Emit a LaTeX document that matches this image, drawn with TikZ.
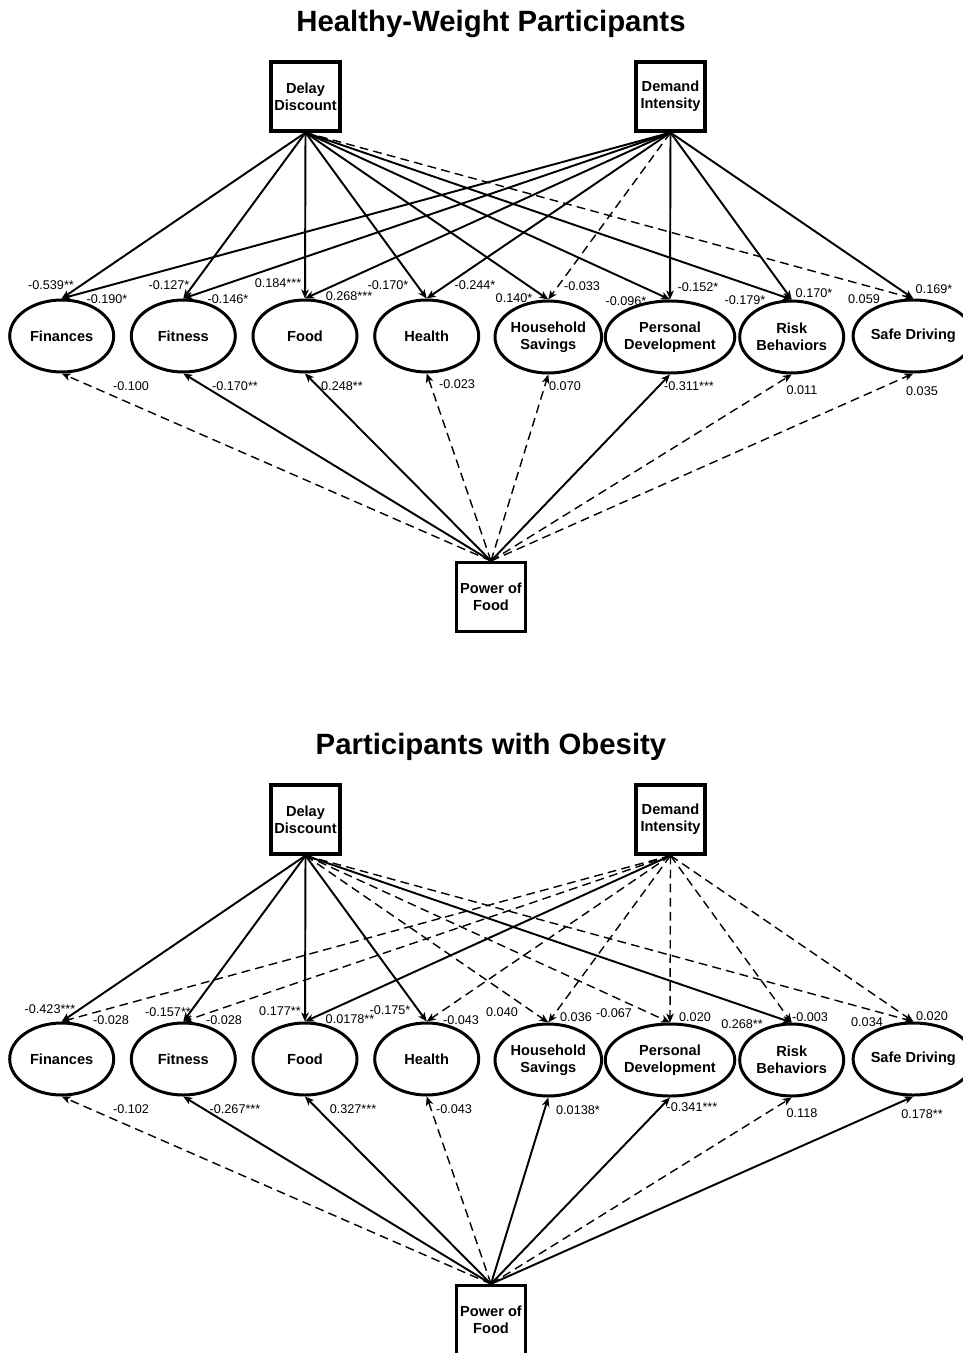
\documentclass[tikz,border=0pt]{standalone}
\usepackage{fontspec}
\setmainfont{Liberation Sans}
\usetikzlibrary{shapes,arrows.meta,positioning}

\begin{document}
\begin{tikzpicture}[x=0.2mm,y=-0.2mm]
  \tikzstyle{obs}=[rectangle,draw,line width=1.8pt,minimum size=13.8mm,inner sep=0pt,align=center,font=\fontsize{8.3}{9.6}\selectfont\bfseries]
  \tikzstyle{lat}=[ellipse,draw,line width=1.7pt,minimum width=20.8mm,minimum height=14.4mm,inner sep=0pt,align=center,font=\fontsize{8.3}{9.6}\selectfont\bfseries]
  \tikzstyle{title}=[font=\fontsize{16.7}{20}\selectfont\bfseries]
  \tikzstyle{coef}=[font=\fontsize{7.2}{8}\selectfont,inner sep=0pt]

  \tikzstyle{sig}=[-{Stealth[length=1.8mm,width=1.5mm,inset=0.5mm]},line width=1.1pt]  % significant path
  \tikzstyle{ns}=[-{Stealth[length=1.8mm,width=1.5mm,inset=0.5mm]},line width=0.8pt,dash pattern=on 5pt off 3pt]  % not significant

  \useasboundingbox (0,0) rectangle (963,1353);

  % healthy-weight panel
  \node[title] (t1) at (491,24) {Healthy-Weight Participants};

  \node[obs] (dd1) at (305.5,96.5) {Delay\\Discount};
  \node[obs] (di1) at (670.5,96.5) {Demand\\Intensity};
  \node[obs] (pf1) at (491,597) {Power of\\Food};

  \node[lat] (fin1) at (61.7,336) {Finances};
  \node[lat] (fit1) at (183.3,336) {Fitness};
  \node[lat] (food1) at (305,336) {Food};
  \node[lat] (hea1) at (426.7,336) {Health};
  \node[lat] (hs1) at (548.3,337) {Household\\Savings};
  \node[lat] (pd1) at (670,337) {Personal\\Development};
  \node[lat] (rb1) at (791.7,337) {Risk\\Behaviors};
  \node[lat] (sd1) at (913.3,336) {Safe Driving};

  \path[sig] (dd1.south) edge (fin1.north) edge (fit1.north) edge (food1.north) edge (hea1.north)
                         edge (hs1.north) edge (pd1.north) edge (rb1.north);
  \path[ns] (dd1.south) edge (sd1.north);
  \path[sig] (di1.south) edge (fin1.north) edge (fit1.north) edge (food1.north) edge (hea1.north)
                         edge (pd1.north) edge (rb1.north) edge (sd1.north);
  \path[ns] (di1.south) edge (hs1.north);
  \path[sig] (pf1.north) edge (fit1.south) edge (food1.south) edge (pd1.south);
  \path[ns] (pf1.north) edge (fin1.south) edge (hea1.south) edge (hs1.south) edge (rb1.south) edge (sd1.south);

  \node[coef] (a1) at (51,285) {-0.539**};
  \node[coef] (a2) at (107,299) {-0.190*};
  \node[coef] (a3) at (169,285) {-0.127*};
  \node[coef] (a4) at (228,299) {-0.146*};
  \node[coef] (a5) at (278,283) {0.184***};
  \node[coef] (a6) at (349,296) {0.268***};
  \node[coef] (a7) at (388,285) {-0.170*};
  \node[coef] (a8) at (475,285) {-0.244*};
  \node[coef] (a9) at (514,298) {0.140*};
  \node[coef] (a10) at (582,286) {-0.033};
  \node[coef] (a11) at (626,301) {-0.096*};
  \node[coef] (a12) at (698,287) {-0.152*};
  \node[coef] (a13) at (745,300) {-0.179*};
  \node[coef] (a14) at (814,293) {0.170*};
  \node[coef] (a15) at (864,299) {0.059};
  \node[coef] (a16) at (934,289) {0.169*};

  \node[coef] (p1) at (131,386) {-0.100};
  \node[coef] (p2) at (235,386) {-0.170**};
  \node[coef] (p3) at (342,386) {0.248**};
  \node[coef] (p4) at (457,384) {-0.023};
  \node[coef] (p5) at (565,386) {0.070};
  \node[coef] (p6) at (689,386) {-0.311***};
  \node[coef] (p7) at (802,390) {0.011};
  \node[coef] (p8) at (922,391) {0.035};

  % obesity panel
  \node[title] (t2) at (491,747) {Participants with Obesity};

  \node[obs] (dd2) at (305.5,819.5) {Delay\\Discount};
  \node[obs] (di2) at (670.5,819.5) {Demand\\Intensity};
  \node[obs] (pf2) at (491,1320) {Power of\\Food};

  \node[lat] (fin2) at (61.7,1059) {Finances};
  \node[lat] (fit2) at (183.3,1059) {Fitness};
  \node[lat] (food2) at (305,1059) {Food};
  \node[lat] (hea2) at (426.7,1059) {Health};
  \node[lat] (hs2) at (548.3,1060) {Household\\Savings};
  \node[lat] (pd2) at (670,1060) {Personal\\Development};
  \node[lat] (rb2) at (791.7,1060) {Risk\\Behaviors};
  \node[lat] (sd2) at (913.3,1059) {Safe Driving};

  \path[sig] (dd2.south) edge (fin2.north) edge (fit2.north) edge (food2.north) edge (hea2.north) edge (rb2.north);
  \path[ns] (dd2.south) edge (hs2.north) edge (pd2.north) edge (sd2.north);
  \path[sig] (di2.south) edge (food2.north);
  \path[ns] (di2.south) edge (fin2.north) edge (fit2.north) edge (hea2.north) edge (hs2.north)
                        edge (pd2.north) edge (rb2.north) edge (sd2.north);
  \path[sig] (pf2.north) edge (fit2.south) edge (food2.south) edge (hs2.south) edge (pd2.south) edge (sd2.south);
  \path[ns] (pf2.north) edge (fin2.south) edge (hea2.south) edge (rb2.south);

  \node[coef] (b1) at (50,1009) {-0.423***};
  \node[coef] (b2) at (111,1020) {-0.028};
  \node[coef] (b3) at (168,1012) {-0.157**};
  \node[coef] (b4) at (224,1020) {-0.028};
  \node[coef] (b5) at (280,1011) {0.177**};
  \node[coef] (b6) at (350,1019) {0.0178**};
  \node[coef] (b7) at (390,1010) {-0.175*};
  \node[coef] (b8) at (461,1020) {-0.043};
  \node[coef] (b9) at (502,1012) {0.040};
  \node[coef] (b10) at (576,1017) {0.036};
  \node[coef] (b11) at (614,1013) {-0.067};
  \node[coef] (b12) at (695,1017) {0.020};
  \node[coef] (b13) at (742,1024) {0.268**};
  \node[coef] (b14) at (810,1017) {-0.003};
  \node[coef] (b15) at (867,1022) {0.034};
  \node[coef] (b16) at (932,1016) {0.020};

  \node[coef] (q1) at (131,1109) {-0.102};
  \node[coef] (q2) at (235,1109) {-0.267***};
  \node[coef] (q3) at (353,1109) {0.327***};
  \node[coef] (q4) at (454,1109) {-0.043};
  \node[coef] (q5) at (578,1110) {0.0138*};
  \node[coef] (q6) at (692,1107) {-0.341***};
  \node[coef] (q7) at (802,1113) {0.118};
  \node[coef] (q8) at (922,1114) {0.178**};
\end{tikzpicture}
\end{document}
